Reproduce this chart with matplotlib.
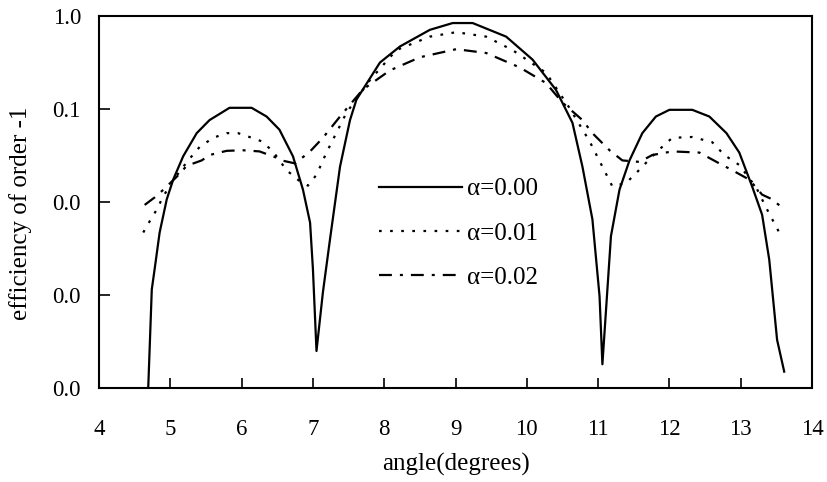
import numpy as np
import matplotlib.pyplot as plt
from matplotlib.ticker import FixedLocator, FormatStrFormatter

plt.rcParams['font.family'] = ['Liberation Serif', 'DejaVu Serif']

# alpha = 0.00 (solid)
angle_a0 = [4.69, 4.74, 4.78, 4.85, 4.95, 5.04, 5.18, 5.37, 5.55, 5.83, 6.14,
            6.35, 6.53, 6.72, 6.86, 6.96, 7.00, 7.05, 7.14, 7.24, 7.38, 7.52,
            7.61, 7.94, 8.22, 8.64, 8.96, 9.24, 9.71, 10.08, 10.41, 10.64,
            10.78, 10.92, 11.02, 11.06, 11.18, 11.30, 11.44, 11.62, 11.81,
            12.00, 12.32, 12.56, 12.80, 12.98, 13.16, 13.30, 13.40, 13.51, 13.61]
eff_a0 = [1.0e-4, 1.15e-3, 1.9e-3, 4.7e-3, 1.07e-2, 1.74e-2, 3.1e-2, 5.5e-2,
          7.6e-2, 0.103, 0.103, 0.083, 0.060, 0.031, 0.0136, 0.0060, 0.0019,
          2.5e-4, 1.07e-3, 4.0e-3, 0.024, 0.076, 0.126, 0.316, 0.47, 0.71,
          0.84, 0.84, 0.60, 0.34, 0.16, 0.071, 0.024, 6.5e-3, 9.7e-4, 1.8e-4,
          4.3e-3, 0.0136, 0.028, 0.055, 0.083, 0.098, 0.098, 0.083, 0.055,
          0.034, 0.0147, 7.3e-3, 2.4e-3, 3.3e-4, 1.5e-4]

# alpha = 0.01 (dotted)
angle_a1 = [4.62, 4.71, 4.81, 4.90, 5.06, 5.25, 5.41, 5.60, 5.79, 5.95, 6.11,
            6.28, 6.44, 6.63, 6.82, 6.93, 7.05, 7.19, 7.47, 7.80, 8.17, 8.64,
            9.01, 9.43, 9.80, 10.27, 10.59, 10.88, 11.06, 11.20, 11.39, 11.51,
            11.81, 12.04, 12.32, 12.60, 12.77, 12.98, 13.22, 13.37, 13.54]
eff_a1 = [4.7e-3, 6.2e-3, 8.3e-3, 0.0115, 0.018, 0.028, 0.039, 0.049, 0.055,
          0.055, 0.050, 0.045, 0.035, 0.022, 0.0166, 0.015, 0.0196, 0.034,
          0.091, 0.205, 0.43, 0.60, 0.67, 0.60, 0.43, 0.245, 0.105, 0.045,
          0.024, 0.0147, 0.016, 0.0196, 0.034, 0.049, 0.050, 0.044, 0.032,
          0.025, 0.0142, 8.3e-3, 4.7e-3]

# alpha = 0.02 (dash-dot)
angle_a2 = [4.64, 4.78, 4.90, 5.09, 5.23, 5.44, 5.55, 5.79, 6.02, 6.25, 6.49,
            6.56, 6.75, 6.96, 7.14, 7.38, 7.70, 8.08, 8.50, 9.01, 9.43, 9.90,
            10.27, 10.50, 10.78, 10.92, 11.16, 11.34, 11.58, 11.76, 12.04,
            12.42, 12.70, 12.88, 13.12, 13.30, 13.44, 13.58]
eff_a2 = [9.3e-3, 0.0112, 0.0135, 0.0187, 0.0245, 0.028, 0.032, 0.0355, 0.036,
          0.035, 0.030, 0.028, 0.026, 0.035, 0.049, 0.083, 0.162, 0.26, 0.36,
          0.44, 0.40, 0.28, 0.19, 0.117, 0.076, 0.055, 0.036, 0.028, 0.027,
          0.032, 0.035, 0.034, 0.026, 0.022, 0.0174, 0.012, 0.0107, 8.7e-3]

labels = ['\u03b1=0.00', '\u03b1=0.01', '\u03b1=0.02']
x_ticks = [4, 5, 6, 7, 8, 9, 10, 11, 12, 13, 14]
y_ticks = [1e-4, 1e-3, 1e-2, 1e-1, 1.0]

fig = plt.figure(figsize=(8.28, 4.82), dpi=100)
ax = fig.add_axes([0.1196, 0.195, 0.8611, 0.7718])

ax.plot(angle_a0, eff_a0, color='black', lw=1.6, label=labels[0])
ax.plot(angle_a1, eff_a1, color='black', lw=1.6, dashes=(1.2, 3.8),
        label=labels[1])
ax.plot(angle_a2, eff_a2, color='black', lw=1.6,
        dashes=(5.8, 3.6, 1.35, 3.6), label=labels[2])

ax.set_yscale('log')
ax.set_xlim(4, 14)
ax.set_ylim(1e-4, 1.0)
ax.xaxis.set_major_locator(FixedLocator(x_ticks))
ax.yaxis.set_major_locator(FixedLocator(y_ticks))
ax.yaxis.set_major_formatter(FormatStrFormatter('%.1f'))
ax.yaxis.set_minor_locator(FixedLocator([]))
ax.tick_params(axis='x', direction='in', length=7, width=1.2, pad=22,
               labelsize=16.5)
ax.tick_params(axis='y', direction='in', length=8, width=1.2, pad=13,
               labelsize=16.5)
for s in ax.spines.values():
    s.set_linewidth(1.5)

ax.set_xlabel('angle(degrees)', fontsize=18)
ax.set_ylabel('efficiency of order -1', fontsize=18)
ax.xaxis.set_label_coords(0.5, -0.175)
ax.yaxis.set_label_coords(-0.094, 0.47)

ax.legend(loc='upper left', bbox_to_anchor=(0.393, 0.565), frameon=False,
          fontsize=18, handlelength=3.3, handletextpad=0.2,
          labelspacing=0.87, borderaxespad=0, borderpad=0)

fig.savefig('out.png', dpi=100)
